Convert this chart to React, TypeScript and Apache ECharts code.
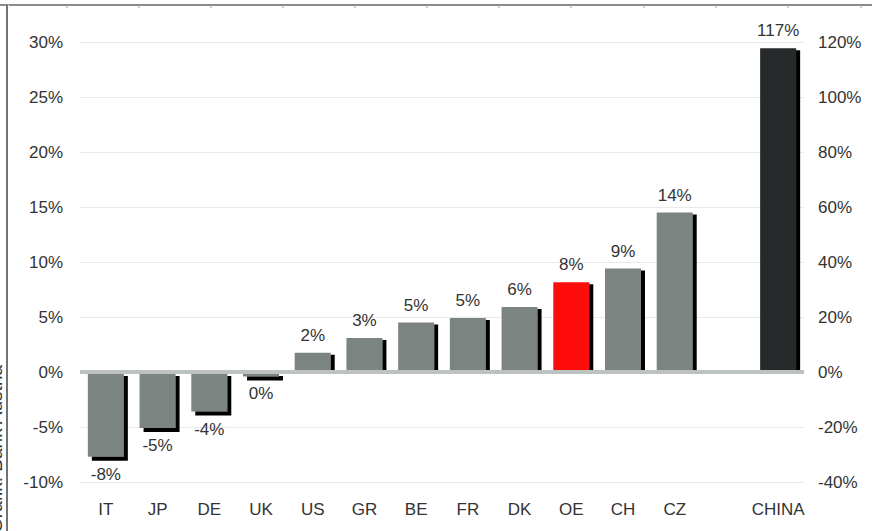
import React, { useEffect, useRef } from "react";
import * as echarts from "echarts";

const categories = ["IT", "JP", "DE", "UK", "US", "GR", "BE", "FR", "DK", "OE", "CH", "CZ", "", "CHINA"];
const countryValues: (number | null)[] = [-7.7, -5.1, -3.6, -0.4, 1.75, 3.1, 4.5, 4.9, 5.9, 8.15, 9.4, 14.5, null, null];
const countryLabels: string[] = ["-8%", "-5%", "-4%", "0%", "2%", "3%", "5%", "5%", "6%", "8%", "9%", "14%", "", ""];
const chinaValues: (number | null)[] = [null, null, null, null, null, null, null, null, null, null, null, null, null, 117.7];
const chinaLabels: string[] = ["", "", "", "", "", "", "", "", "", "", "", "", "", "117%"];
const highlight = "OE";
const topTicks = [67, 139, 211, 283, 355, 427, 499, 571, 644, 716, 788, 861];

const GREY = "#7b8482";
const RED = "#ff0a0a";
const DARK = "#262a2b";
const TEXT = "#333";
const FONT = "Liberation Sans, Arial, sans-serif";

export default function App() {
  const ref = useRef<HTMLDivElement>(null);
  useEffect(() => {
    if (!ref.current) return;
    const chart = echarts.init(ref.current, undefined, { renderer: "svg" });
    const mkData = (vals: (number | null)[], labels: string[], color: (i: number) => string) =>
      vals.map((v, i) =>
        v === null
          ? null
          : {
              value: v,
              itemStyle: {
                color: color(i),
                shadowColor: "#000",
                shadowBlur: 0,
                shadowOffsetX: 4,
                shadowOffsetY: v < 0 ? 4 : 2,
              },
              label: { position: v < 0 ? "bottom" : "top", formatter: labels[i] },
            }
      );
    const labelCommon = { show: true, color: TEXT, fontSize: 17, fontFamily: FONT, distance: 9 };
    chart.setOption({
      animation: false,
      textStyle: { fontFamily: FONT },
      grid: { left: 80, right: 68, top: 42, bottom: 49 },
      xAxis: {
        type: "category",
        data: categories,
        axisLine: { show: false },
        axisTick: { show: false },
        axisLabel: { color: TEXT, fontSize: 17, fontFamily: FONT, margin: 19, interval: 0 },
      },
      yAxis: [
        {
          type: "value",
          min: -10,
          max: 30,
          interval: 5,
          axisLine: { show: false },
          axisTick: { show: false },
          axisLabel: { color: TEXT, fontSize: 17, fontFamily: FONT, margin: 17, formatter: "{value}%" },
          splitLine: { lineStyle: { color: "#e6eaea", width: 1 } },
        },
        {
          type: "value",
          min: -40,
          max: 120,
          interval: 20,
          position: "right",
          axisLine: { show: false },
          axisTick: { show: false },
          axisLabel: { color: TEXT, fontSize: 17, fontFamily: FONT, margin: 14, formatter: "{value}%" },
          splitLine: { show: false },
        },
      ],
      series: [
        {
          type: "bar",
          yAxisIndex: 0,
          barWidth: 36,
          barGap: "-100%",
          data: mkData(countryValues, countryLabels, (i) => (categories[i] === highlight ? RED : GREY)),
          label: labelCommon,
          markLine: {
            silent: true,
            symbol: "none",
            z: 10,
            label: { show: false },
            lineStyle: { color: "#bcc1c1", width: 4, type: "solid" },
            data: [{ yAxis: 0 }],
          },
        },
        {
          type: "bar",
          yAxisIndex: 1,
          barWidth: 36,
          barGap: "-100%",
          data: mkData(chinaValues, chinaLabels, () => DARK),
          label: labelCommon,
        },
      ],
      graphic: [
        { type: "line", shape: { x1: 0, y1: 5, x2: 872, y2: 5 }, style: { stroke: "#666", lineWidth: 1.5 } },
        {
          type: "text",
          x: 5,
          y: 365,
          rotation: Math.PI / 2,
          style: {
            text: "Grafik: Bank Austria",
            fill: TEXT,
            fontSize: 19,
            fontFamily: FONT,
            align: "right",
            verticalAlign: "bottom",
          },
        },
        { type: "rect", shape: { x: 6, y: 5, width: 3, height: 526 }, style: { fill: "#fff" } },
        { type: "line", shape: { x1: 7, y1: 5, x2: 7, y2: 531 }, style: { stroke: "#444", lineWidth: 1.5 } },
        ...topTicks.map((x) => ({
          type: "line",
          shape: { x1: x, y1: 5, x2: x, y2: 8 },
          style: { stroke: "#999", lineWidth: 1 },
        })),
      ],
    });
    return () => chart.dispose();
  }, []);
  return (
    <div
      ref={ref}
      style={{ position: "fixed", left: 0, top: 0, width: 872, height: 531, background: "#fff" }}
    />
  );
}
